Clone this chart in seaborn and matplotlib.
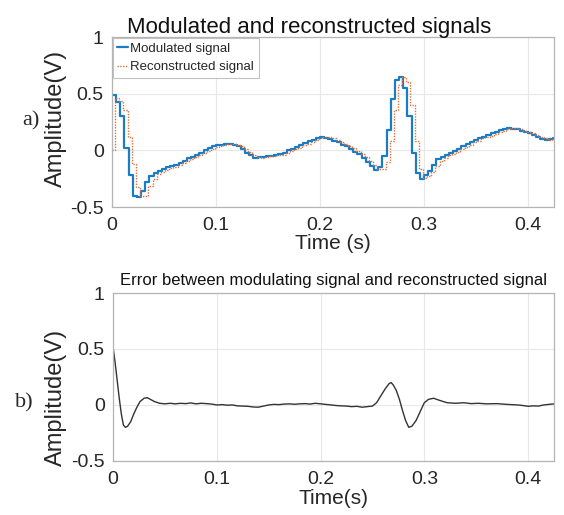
import numpy as np
import pandas as pd
import seaborn as sns
from matplotlib import pyplot as plt

mod_time = np.arange(107) * 0.004
mod_value = [
    0.49, 0.43, 0.30, 0.02, -0.22, -0.40, -0.41, -0.36, -0.28, -0.23,
    -0.20, -0.18, -0.165, -0.15, -0.14, -0.125, -0.11, -0.09, -0.07, -0.055,
    -0.04, -0.02, 0.0, 0.02, 0.035, 0.045, 0.05, 0.055, 0.055, 0.05,
    0.035, 0.01, -0.02, -0.045, -0.065, -0.06, -0.055, -0.05, -0.05, -0.045,
    -0.035, -0.02, 0.0, 0.015, 0.03, 0.05, 0.065, 0.08, 0.095, 0.11,
    0.115, 0.11, 0.10, 0.085, 0.07, 0.05, 0.035, 0.015, -0.01, -0.035,
    -0.065, -0.10, -0.14, -0.17, -0.15, -0.05, 0.18, 0.45, 0.62, 0.65,
    0.55, 0.30, -0.02, -0.20, -0.25, -0.22, -0.18, -0.13, -0.08, -0.06,
    -0.04, -0.025, -0.005, 0.015, 0.035, 0.055, 0.075, 0.09, 0.11, 0.12,
    0.135, 0.15, 0.165, 0.18, 0.19, 0.195, 0.19, 0.185, 0.175, 0.16,
    0.15, 0.135, 0.115, 0.10, 0.095, 0.10, 0.105,
]

# reconstructed signal lags by ~3 ms and starts from zero
rec_time = np.concatenate([[0.0], 0.003 + np.arange(106) * 0.004])
rec_value = [
    0.0,
    0.46, 0.44, 0.36, 0.12, -0.12, -0.32, -0.40, -0.40, -0.31, -0.25,
    -0.21, -0.19, -0.17, -0.155, -0.145, -0.13, -0.115, -0.095, -0.075, -0.06,
    -0.045, -0.025, -0.005, 0.015, 0.03, 0.04, 0.05, 0.055, 0.055, 0.05,
    0.04, 0.015, -0.015, -0.04, -0.06, -0.065, -0.055, -0.05, -0.05, -0.045,
    -0.04, -0.025, -0.005, 0.01, 0.025, 0.045, 0.06, 0.075, 0.09, 0.105,
    0.115, 0.115, 0.105, 0.09, 0.075, 0.055, 0.04, 0.02, -0.005, -0.03,
    -0.06, -0.09, -0.13, -0.16, -0.16, -0.10, 0.08, 0.36, 0.58, 0.65,
    0.60, 0.40, 0.08, -0.16, -0.24, -0.23, -0.19, -0.14, -0.09, -0.065,
    -0.045, -0.03, -0.01, 0.01, 0.03, 0.05, 0.07, 0.085, 0.105, 0.115,
    0.13, 0.145, 0.16, 0.175, 0.185, 0.195, 0.195, 0.185, 0.175, 0.165,
    0.15, 0.14, 0.12, 0.105, 0.095, 0.10,
]

err_time = [
    0.0, 0.002, 0.004, 0.006, 0.008, 0.010, 0.012, 0.014, 0.017, 0.020,
    0.023, 0.026, 0.030, 0.033, 0.036, 0.040, 0.045, 0.050, 0.055, 0.060,
    0.065, 0.070, 0.075, 0.080, 0.085, 0.090, 0.095, 0.100, 0.105, 0.110,
    0.115, 0.120, 0.125, 0.130, 0.135, 0.140, 0.145, 0.150, 0.155, 0.160,
    0.165, 0.170, 0.175, 0.180, 0.185, 0.190, 0.195, 0.200, 0.205, 0.210,
    0.215, 0.220, 0.225, 0.230, 0.235, 0.240, 0.245, 0.250, 0.254, 0.258,
    0.262, 0.266, 0.268, 0.270, 0.273, 0.276, 0.279, 0.282, 0.285, 0.288,
    0.292, 0.296, 0.300, 0.304, 0.309, 0.315, 0.322, 0.330, 0.338, 0.345,
    0.352, 0.360, 0.370, 0.380, 0.390, 0.395, 0.400, 0.405, 0.410, 0.415,
    0.420, 0.425,
]
err_value = [
    0.52, 0.38, 0.22, 0.06, -0.08, -0.18, -0.20, -0.19, -0.15, -0.08,
    -0.02, 0.03, 0.06, 0.065, 0.05, 0.03, 0.015, 0.01, 0.015, 0.01,
    0.015, 0.012, 0.018, 0.01, 0.015, 0.012, 0.008, 0.0, 0.003, -0.002,
    0.0, -0.008, -0.01, -0.012, -0.018, -0.02, -0.01, 0.0, 0.005, 0.003,
    0.008, 0.01, 0.006, 0.01, 0.012, 0.008, 0.015, 0.01, 0.005, 0.0,
    -0.005, -0.008, -0.01, -0.015, -0.012, -0.02, -0.015, -0.01, 0.02, 0.08,
    0.14, 0.19, 0.20, 0.18, 0.13, 0.05, -0.05, -0.14, -0.20, -0.19,
    -0.14, -0.06, 0.02, 0.05, 0.06, 0.04, 0.02, 0.015, 0.02, 0.012,
    0.015, 0.01, 0.012, 0.005, 0.0, -0.005, -0.012, -0.008, -0.01, 0.0,
    0.005, 0.01,
]

x_ticks = [0, 0.1, 0.2, 0.3, 0.4]
x_labels = ["0", "0.1", "0.2", "0.3", "0.4"]
y_ticks = [-0.5, 0, 0.5, 1]
y_labels = ["-0.5", "0", "0.5", "1"]

sns.set_style("whitegrid")
plt.rcParams["font.family"] = ["Liberation Sans", "DejaVu Sans"]

fig = plt.figure(figsize=(5.64, 5.15), dpi=100)
ax1 = fig.add_axes([0.1986, 0.598, 0.7837, 0.330])
ax2 = fig.add_axes([0.2004, 0.105, 0.7819, 0.326])

mod = pd.DataFrame({"t": mod_time, "v": mod_value})
rec = pd.DataFrame({"t": rec_time, "v": rec_value})
err = pd.DataFrame({"t": err_time, "v": err_value})

sns.lineplot(mod, x="t", y="v", ax=ax1, color="#1a7cc4", lw=1.6,
             drawstyle="steps-post", label="Modulated signal")
sns.lineplot(rec, x="t", y="v", ax=ax1, color="#e0703c", lw=1.0,
             ls=(0, (1, 1)), drawstyle="steps-post",
             label="Reconstructed signal")
sns.lineplot(err, x="t", y="v", ax=ax2, color="#333333", lw=1.0)

for ax in (ax1, ax2):
    ax.set(xlim=(0, 0.425), ylim=(-0.5, 1), xticks=x_ticks, yticks=y_ticks)
    ax.set_xticklabels(x_labels)
    ax.set_yticklabels(y_labels)
    ax.grid(True, color="#e8e8e8", lw=0.8)
    for s in ax.spines.values():
        s.set_color("#b4b4b4")
        s.set_linewidth(0.9)
    ax.tick_params(axis="both", labelsize=14, colors="#262626",
                   direction="in", length=3, color="#b4b4b4")
    ax.tick_params(axis="x", pad=7)
    ax.tick_params(axis="y", pad=6)
    ax.set_ylabel("Amplitude(V)", fontsize=17, color="#262626")

ax1.yaxis.set_label_coords(-0.102, 0.52)
ax2.yaxis.set_label_coords(-0.104, 0.38)

ax1.set_xlabel("Time (s)", fontsize=15, color="#262626", labelpad=0)
ax2.set_xlabel("Time(s)", fontsize=15, color="#262626", labelpad=1)
ax1.set_title("Modulated and reconstructed signals", fontsize=16,
              color="#111111", pad=3, x=0.446)
ax2.set_title("Error between modulating signal and reconstructed signal",
              fontsize=12, color="#111111", pad=6)

leg = ax1.legend(loc="upper left", fontsize=9.5, frameon=True, fancybox=False,
                 borderpad=0.35, handlelength=0.8, handletextpad=0.2,
                 labelspacing=0.5, borderaxespad=0.05)
leg.get_frame().set_edgecolor("#b4b4b4")
leg.get_frame().set_linewidth(0.8)

fig.text(0.04, 0.765, "a)", fontsize=16, family="Liberation Serif",
         va="center")
fig.text(0.027, 0.218, "b)", fontsize=16, family="Liberation Serif",
         va="center")

fig.savefig("out.png", dpi=100)
